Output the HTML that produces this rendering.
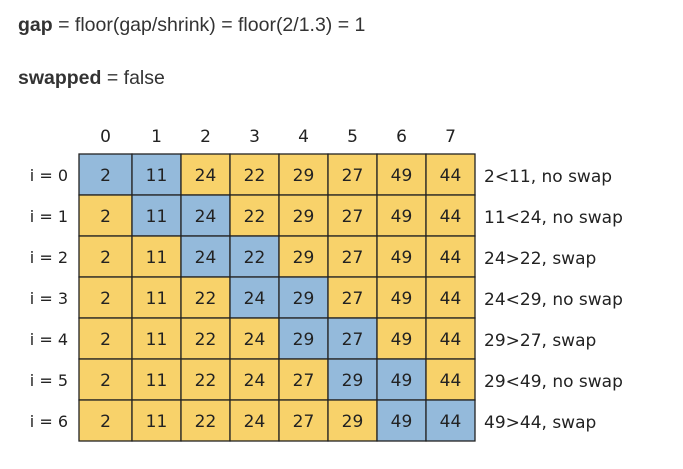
<!DOCTYPE html>
<html><head><meta charset="utf-8"><style>
body{margin:0;width:683px;height:469px;background:#fff;font-family:"Liberation Sans",sans-serif;overflow:hidden;position:relative}
.t{position:absolute;left:18px;font-size:19.5px;color:#333;line-height:20px}
</style></head><body>
<div class="t" style="top:15px"><b>gap</b> = floor(gap/shrink) = floor(2/1.3) = 1</div>
<div class="t" style="top:68px"><b>swapped</b> = false</div>
<svg id="g" width="683" height="469" style="position:absolute;left:0;top:0"></svg>
<script>
const rows=[[2,11,24,22,29,27,49,44],[2,11,24,22,29,27,49,44],[2,11,24,22,29,27,49,44],[2,11,22,24,29,27,49,44],[2,11,22,24,29,27,49,44],[2,11,22,24,27,29,49,44],[2,11,22,24,27,29,49,44]];
const notes=["2<11, no swap","11<24, no swap","24>22, swap","24<29, no swap","29>27, swap","29<49, no swap","49>44, swap"];
const colX=[79,132,181,230,279,328,377,426,475];
const top0=154,rh=41;
const svg=document.getElementById('g');
const NS='http://www.w3.org/2000/svg';
function mk(t,a,txt){const e=document.createElementNS(NS,t);for(const k in a)e.setAttribute(k,a[k]);if(txt!==undefined)e.textContent=txt;svg.appendChild(e);return e;}
for(let c=0;c<8;c++){
 const e=mk('text',{x:(colX[c]+colX[c+1])/2,y:142,'text-anchor':'middle','font-size':17,fill:'#222','font-family':'DejaVu Sans, sans-serif'},c);
 
 
}
rows.forEach((r,i)=>{
 const y=top0+i*rh;
 const l=mk('text',{x:68,y:y+27,'text-anchor':'end','font-size':16,fill:'#222','font-family':'DejaVu Sans, sans-serif'},'i = '+i);
 
 
 r.forEach((v,c)=>{
  const blue=(c===i||c===i+1);
  const rc=mk('rect',{x:colX[c],y:y,width:colX[c+1]-colX[c],height:rh,fill:blue?'#94BADB':'#F8D26A',stroke:'#222','stroke-width':1.3});
  
  
  const tx=mk('text',{x:(colX[c]+colX[c+1])/2,y:y+27,'text-anchor':'middle','font-size':17,fill:'#222','font-family':'DejaVu Sans, sans-serif'},v);
  
  
 });
 const n=mk('text',{x:484,y:y+28,'font-size':17,fill:'#222','font-family':'DejaVu Sans, sans-serif'},notes[i]);
 
 
});
</script>
</body></html>
